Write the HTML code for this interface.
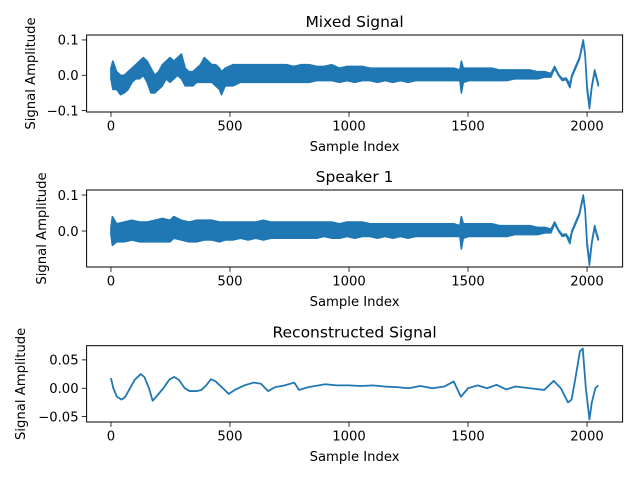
<!DOCTYPE html>
<html><head><meta charset="utf-8"><style>
body{margin:0;background:#fff}
svg{display:block;font-family:"DejaVu Sans","Liberation Sans",sans-serif}
</style></head><body>
<svg id="fig" width="640" height="480" viewBox="0 0 640 480"></svg>
<script>
// Noisy signals stored as upper / lower envelope samples (hundredths)
const mixedIdx=[0,8,24,40,56,72,88,104,120,136,152,168,184,200,216,232,248,264,280,296,312,328,344,360,376,392,408,424,440,456,464,480,512,544,576,608,640,672,704,736,768,800,832,864,896,928,960,992,1024,1056,1088,1120,1152,1184,1216,1248,1280,1312,1344,1376,1408,1440,1466,1472,1480,1504,1536,1568,1600,1632,1664,1696,1728,1760,1792,1824,1848,1864,1880,1896,1912,1928,1936,1952,1968,1984,1992,2000,2010,2020,2032,2040,2047];
const mixedHi=[2,4,1,0,0,1,2,3,4,5,4,2,0,1,3,4,5,4,5,6,2,1,1,2,3,5,4,3,3,2,1,2,3,3,3,3,3,3,3,3,2.5,3,3,2.5,2.5,3,2,2.5,2.5,2.5,2,2,2,2,2,2,2,2,2,2,2,2,1.5,4,2,2,2,2,2,1.5,1.5,1.5,1.5,1.5,1,1,0.5,2.5,0.3,-1,-0.8,-2.5,0,2.5,5,10,6,-3,-8.5,-3,1.5,-0.5,-2.5];
const mixedLo=[-1,-4,-4,-5.5,-5,-4,-2,-1,-1,0,-2,-5,-5,-4,-3,-1,-2,-1,0,-1,-3,-3,-3,-2,-2,-2,-2,-2,-3,-4,-5.5,-3,-3,-2,-2,-2,-2,-2,-2,-2,-2,-2,-2,-1.5,-1.5,-1.5,-2,-1.5,-2,-1.5,-1.5,-2,-1.5,-2,-1.5,-2,-1.5,-1.5,-1.5,-1.5,-1.5,-1.5,-1.5,-5,-2,-1.5,-1.5,-1.5,-1.5,-1.5,-1.5,-1,-1,-1,-1,-0.5,-0.5,2,0,-1.5,-1.2,-3.5,-0.5,2,4.5,9.5,5.5,-4,-9.5,-3.5,1,-1,-3];
const spkIdx=[0,6,24,56,88,120,152,184,216,248,264,296,328,360,392,424,456,480,512,544,576,608,640,672,704,736,768,800,832,864,896,928,960,992,1024,1056,1088,1120,1152,1184,1216,1248,1280,1312,1344,1376,1408,1440,1466,1472,1480,1504,1536,1568,1600,1632,1664,1696,1728,1760,1792,1824,1848,1864,1880,1896,1912,1928,1936,1952,1968,1984,1992,2000,2010,2020,2032,2040,2047];
const spkHi=[1,4,2,2.5,3,2.5,2.5,3,3.5,3,4,3,2.5,3,3,3,2.5,2.5,2.5,2.5,2.5,2.5,3,2.5,2.5,2.5,2.5,2.5,2.5,2.5,2.5,2.5,2,2.5,2.5,2.5,2,2,2,2,2,2,2,2,2,2,2,2,1.5,4,2,2,2,2,2,1.5,1.5,1.5,1.5,1.5,1,1,0.5,2.5,0.3,-1,-0.8,-2.5,0,2.5,5,10,6,-3,-8.5,-3,1.5,-0.5,-2];
const spkLo=[-1,-4,-3,-3,-2.5,-3,-3,-3,-3,-3,-2,-2.5,-3,-3,-2.5,-2.5,-3,-2.5,-2.5,-2,-2.5,-2,-2.5,-2,-2,-2,-2,-2,-2,-2,-1.5,-2,-2,-1.5,-2,-1.5,-1.5,-2,-1.5,-2,-1.5,-2,-1.5,-1.5,-1.5,-1.5,-1.5,-1.5,-1.5,-5,-2,-1.5,-1.5,-1.5,-1.5,-1.5,-1.5,-1,-1,-1,-1,-0.5,-0.5,2,0,-1.5,-1.2,-3.5,-0.5,2,4.5,9.5,5.5,-4,-9.5,-3.5,1,-1,-2.5];
const recIdx=[0,10,25,45,60,80,100,125,140,160,175,190,220,245,265,285,310,330,360,380,400,420,440,470,495,520,560,600,630,660,690,730,770,790,830,900,950,1000,1050,1100,1150,1200,1250,1300,1350,1400,1440,1470,1500,1540,1580,1620,1660,1700,1760,1820,1860,1890,1920,1935,1950,1970,1982,1995,2010,2020,2035,2047];
const recVal=[1.8,0,-1.5,-2,-1.5,0,1.5,2.5,2,0,-2.2,-1.5,0,1.5,2,1.5,0,-0.5,-0.5,-0.3,0.5,1.6,1.2,0,-1,-0.3,0.5,1,0.8,-0.5,0.2,0.5,1,-0.3,0.2,0.7,0.5,0.5,0.4,0.5,0.3,0.2,0,0.4,0,0.3,1.2,-1.5,0,0.5,0,0.6,-0.2,0.3,0,-0.3,1.3,0,-2.5,-2,1.5,6.5,7,0,-5.5,-2.5,0,0.5];
const xTicks=[0,500,1000,1500,2000];
const mixedYTicks=[0.1,0,-0.1], mixedYLabels=["0.1","0.0","\u22120.1"];
const spkYTicks=[0.1,0], spkYLabels=["0.1","0.0"];
const recYTicks=[0.05,0,-0.05], recYLabels=["0.05","0.00","\u22120.05"];

const NS="http://www.w3.org/2000/svg", svg=document.getElementById('fig');
function mk(tag,attrs,parent,txt){const e=document.createElementNS(NS,tag);for(const k in attrs)e.setAttribute(k,attrs[k]);if(txt!==undefined)e.textContent=txt;(parent||svg).appendChild(e);return e;}
const L=86.6,R=622.6,X0=-102.35,X1=2149.35;
const xs=v=>L+(v-X0)/(X1-X0)*(R-L);
function panel(key,title,top,bot,ymin,ymax,idx,hi,lo,yt,yl,ylabX){
  const g=mk('g',{});
  
  
  const ys=v=>bot-(v-ymin)/(ymax-ymin)*(bot-top);
  let mark;
  if(lo){
    const up=idx.map((s,i)=>xs(s).toFixed(2)+','+ys(hi[i]/100).toFixed(2));
    const dn=idx.map((s,i)=>xs(s).toFixed(2)+','+ys(lo[i]/100).toFixed(2)).reverse();
    mark=mk('polygon',{points:up.concat(dn).join(' '),fill:'#1f77b4',stroke:'#1f77b4','stroke-width':1.6,'stroke-linejoin':'round'},g);
  } else {
    const pts=idx.map((s,i)=>xs(s).toFixed(2)+','+ys(hi[i]/100).toFixed(2)).join(' ');
    mark=mk('polyline',{points:pts,fill:'none',stroke:'#1f77b4','stroke-width':1.8,'stroke-linejoin':'round'},g);
  }
  
  
  const fr=mk('rect',{x:L,y:top,width:R-L,height:bot-top,fill:'none',stroke:'#000','stroke-width':1},g);
  
  
  xTicks.forEach(t=>{const x=xs(t);mk('line',{x1:x,x2:x,y1:bot,y2:bot+4.9,stroke:'#000','stroke-width':0.8},g);
    const tx=mk('text',{x:x,y:bot+18.5,'text-anchor':'middle','font-size':13.2},g,String(t));
    
    });
  yt.forEach((t,i)=>{const y=ys(t);mk('line',{x1:L-4.9,x2:L,y1:y,y2:y,stroke:'#000','stroke-width':0.8},g);
    const tx=mk('text',{x:L-8,y:y+4.8,'text-anchor':'end','font-size':13.2},g,yl[i]);
    
    });
  const ti=mk('text',{x:(L+R)/2,y:top-8,'text-anchor':'middle','font-size':15.5},g,title);
  
  
  const xl=mk('text',{x:(L+R)/2,y:bot+39,'text-anchor':'middle','font-size':13.2},g,'Sample Index');
  
  
  const cy=(top+bot)/2;
  const yl2=mk('text',{x:ylabX,y:cy,'text-anchor':'middle','font-size':13.2,transform:`rotate(-90 ${ylabX} ${cy})`},g,'Signal Amplitude');
  
  
}
panel('mixed','Mixed Signal',35,112,-0.104,0.114,mixedIdx,mixedHi,mixedLo,mixedYTicks,mixedYLabels,35);
panel('speaker1','Speaker 1',190,267,-0.1,0.114,spkIdx,spkHi,spkLo,spkYTicks,spkYLabels,46);
panel('reconstructed','Reconstructed Signal',345.7,422,-0.0595,0.075,recIdx,recVal,null,recYTicks,recYLabels,25);
</script>
</body></html>
